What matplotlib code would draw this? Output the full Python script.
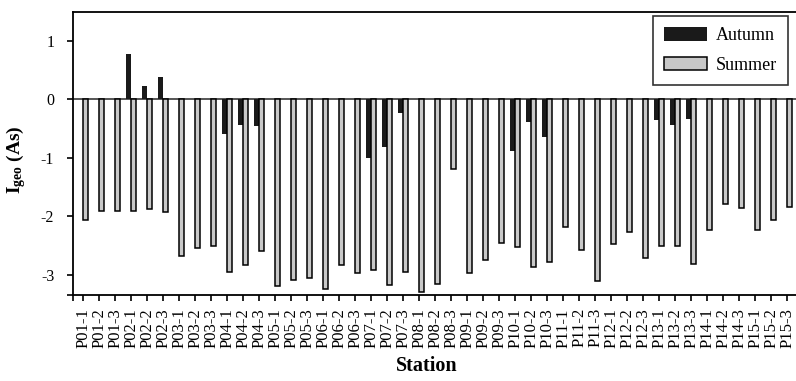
import numpy as np
import matplotlib
matplotlib.use('Agg')
import matplotlib.pyplot as plt

# Station names and Igeo(As) values
stations = ['P01-1', 'P01-2', 'P01-3', 'P02-1', 'P02-2', 'P02-3',
            'P03-1', 'P03-2', 'P03-3', 'P04-1', 'P04-2', 'P04-3',
            'P05-1', 'P05-2', 'P05-3', 'P06-1', 'P06-2', 'P06-3',
            'P07-1', 'P07-2', 'P07-3', 'P08-1', 'P08-2', 'P08-3',
            'P09-1', 'P09-2', 'P09-3', 'P10-1', 'P10-2', 'P10-3',
            'P11-1', 'P11-2', 'P11-3', 'P12-1', 'P12-2', 'P12-3',
            'P13-1', 'P13-2', 'P13-3', 'P14-1', 'P14-2', 'P14-3',
            'P15-1', 'P15-2', 'P15-3']

autumn = [0, 0, 0, 0.77, 0.23, 0.39,
          0, 0, 0, -0.60, -0.44, -0.45,
          0, 0, 0, 0, 0, 0,
          -1.01, -0.81, -0.23, 0, 0, 0,
          0, 0, 0, -0.875, -0.38, -0.64,
          0, 0, 0, 0, 0, 0,
          -0.36, -0.44, -0.33, 0, 0, 0,
          0, 0, 0]

summer = [-2.07, -1.90, -1.90, -1.90, -1.875, -1.93,
          -2.67, -2.54, -2.51, -2.95, -2.83, -2.59,
          -3.19, -3.08, -3.05, -3.24, -2.83, -2.97,
          -2.92, -3.18, -2.95, -3.29, -3.15, -1.19,
          -2.96, -2.75, -2.45, -2.53, -2.86, -2.78,
          -2.18, -2.58, -3.11, -2.48, -2.27, -2.71,
          -2.50, -2.51, -2.81, -2.24, -1.78, -1.86,
          -2.24, -2.07, -1.84]

plt.rcParams['font.family'] = ['Liberation Serif', 'DejaVu Serif']
plt.rcParams['mathtext.fontset'] = 'custom'
plt.rcParams['mathtext.rm'] = 'Liberation Serif'
plt.rcParams['mathtext.bf'] = 'Liberation Serif:bold'

fig = plt.figure(figsize=(7.96, 3.81), dpi=100)
ax = fig.add_axes([0.0913, 0.2249, 0.9087, 0.7444])

x = np.arange(len(stations))
w = 0.32
ax.axhline(0, color='#555555', lw=1.4, zorder=1)
ax.bar(x - w, autumn, width=w, align='edge', color='#1a1a1a',
       linewidth=0, label='Autumn', zorder=2)
ax.bar(x, summer, width=w, align='edge', color='#c8c8c8',
       edgecolor='black', linewidth=1.1, label='Summer', zorder=2)

ax.set_xlim(-0.66, 44.54)
ax.set_ylim(-3.35, 1.5)
ax.set_xticks(x)
ax.set_xticklabels(stations, rotation=90, fontsize=12)
ax.set_yticks([1, 0, -1, -2, -3])
ax.set_yticklabels(['1', '0', '-1', '-2', '-3'], fontsize=11.5)
ax.set_xticks([-0.66], minor=True)
ax.set_yticks([-3.35], minor=True)

ax.tick_params(axis='both', which='both', direction='out', width=1.2, length=4.3)
ax.tick_params(axis='x', pad=5)
ax.tick_params(axis='y', pad=9)

for s in ['left', 'bottom', 'top']:
    ax.spines[s].set_linewidth(1.3)
ax.spines['right'].set_visible(False)

ax.set_xlabel('Station', fontsize=14.5, fontweight='bold')
ax.xaxis.set_label_coords(0.49, -0.215)
ax.set_ylabel(r'$\mathbf{I_{geo}}$ (As)', fontsize=14, fontweight='bold')
ax.yaxis.set_label_coords(-0.062, 0.48)

leg = ax.legend(loc='upper right', bbox_to_anchor=(788 / 796, 1 - 16 / 381),
                bbox_transform=fig.transFigure, fontsize=13, frameon=True,
                fancybox=False, edgecolor='black', handlelength=2.4,
                handleheight=0.8, handletextpad=0.5, labelspacing=0.7,
                borderpad=0.6, borderaxespad=0)
leg.get_frame().set_linewidth(1.2)

fig.savefig('out.png', dpi=100)
